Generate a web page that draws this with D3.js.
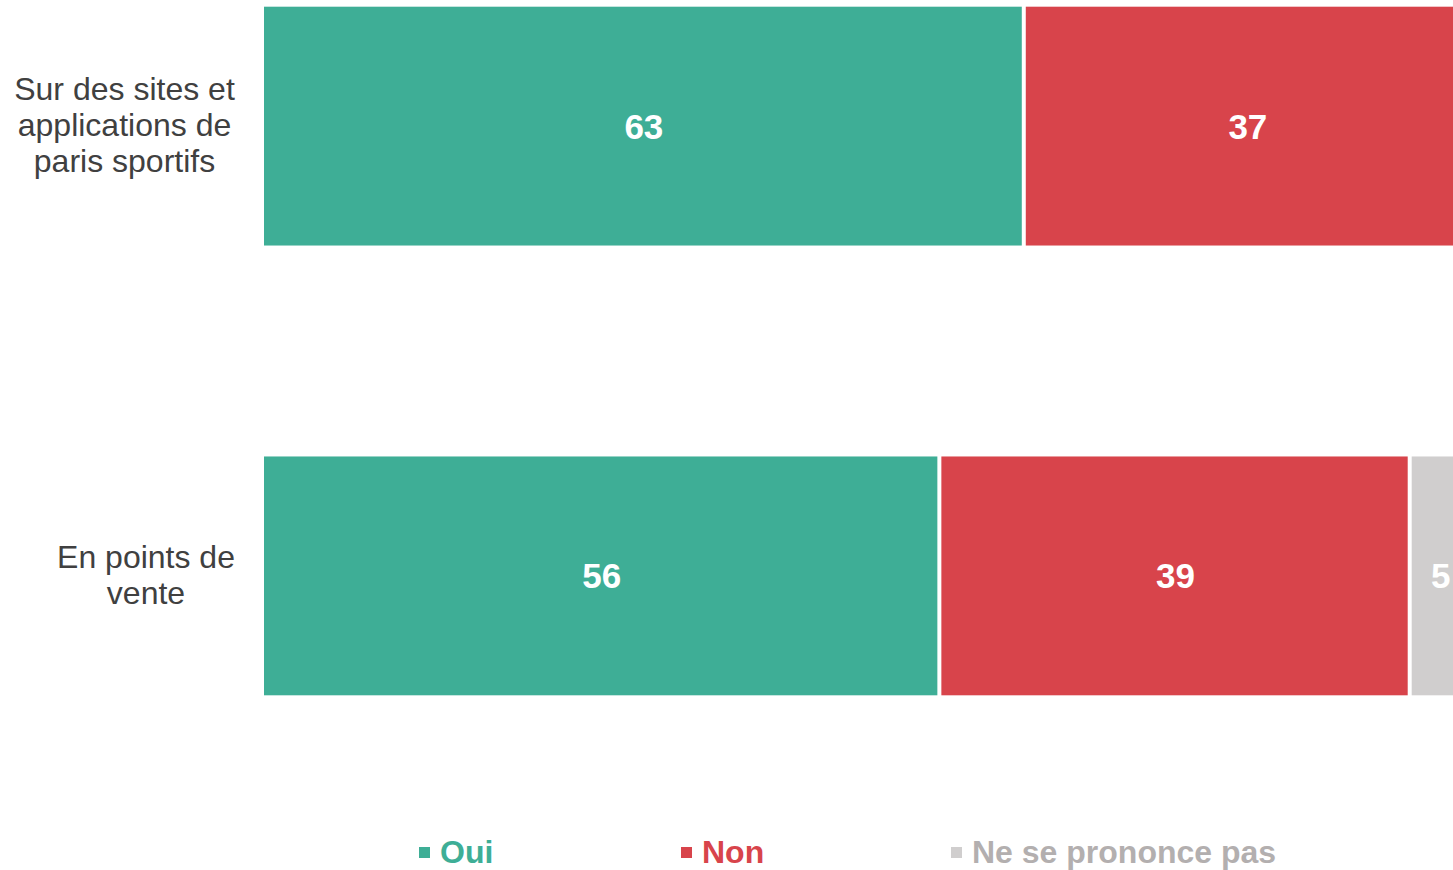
<!DOCTYPE html>
<html><head><meta charset="utf-8">
<script src="https://cdn.jsdelivr.net/npm/d3@7"></script>
<style>html,body{margin:0;padding:0;background:#fff;overflow:hidden}</style>
</head><body>
<svg id="chart" width="1453" height="870"></svg>
<script>
const categories = [["Sur des sites et","applications de","paris sportifs"],["En points de","vente"]];
const categoryKeys = ["sites","points"];
const seriesNames = ["Oui","Non","Ne se prononce pas"];
const oui = [63, 56];
const non = [37, 39];
const nsp = [0, 5];
const colors = ["#3eae96","#d8444b","#d0cece"];
const legendTextColors = ["#3eae96","#d8444b","#b3afaf"];

const svg = d3.select("#chart");
const font = "'Liberation Sans', Arial, sans-serif";
const x = d3.scaleLinear().domain([0,100]).range([264, 1470]);
const y = d3.scaleBand().domain(categoryKeys).range([-99, 801]).paddingInner(0.469).paddingOuter(0.235);

const rows = categoryKeys.map((k,i)=>({key:k, Oui:oui[i], Non:non[i], "Ne se prononce pas":nsp[i]}));
const stack = d3.stack().keys(seriesNames)(rows);

stack.forEach((layer, si) => {
  const g = svg.append("g");
  layer.forEach((d, ri) => {
    const v = d[1]-d[0];
    if (v <= 0) return;
    const x0 = x(d[0]) + (d[0] > 0 ? 2 : 0);
    const x1 = x(d[1]) - (d[1] < 100 ? 2 : 0);
    g.append("rect")
      .attr("x", x0).attr("y", y(categoryKeys[ri]))
      .attr("width", x1 - x0).attr("height", y.bandwidth())
      .attr("fill", colors[si]);
    g.append("text")
      .attr("x", (x(d[0]) + x(d[1]))/2 + (d[0]>0?1:0))
      .attr("y", y(categoryKeys[ri]) + y.bandwidth()/2)
      .attr("dy", "0.36em")
      .attr("text-anchor","middle")
      .attr("font-family", font).attr("font-weight","bold").attr("font-size", 35)
      .attr("fill","#ffffff")
      .text(v);
  });
});

// category labels
categories.forEach((lines, i) => {
  const cy = y(categoryKeys[i]) + y.bandwidth()/2;
  const lh = 36;
  const t = svg.append("text")
    .attr("text-anchor","middle")
    .attr("font-family", font).attr("font-size", 32)
    .attr("fill","#404040");
  const cx = i === 0 ? 124.5 : 146;
  lines.forEach((ln, j) => {
    t.append("tspan").attr("x", cx)
      .attr("y", cy + (j - (lines.length-1)/2)*lh)
      .attr("dy","0.32em").text(ln);
  });
});

// legend
const legendX = [419, 681, 951];
const lg = svg.append("g");
seriesNames.forEach((s, i) => {
  lg.append("rect").attr("x", legendX[i]).attr("y", 847).attr("width", 11).attr("height", 11).attr("fill", colors[i]);
  lg.append("text").attr("x", legendX[i] + 21).attr("y", 863)
    .attr("font-family", font).attr("font-weight","bold").attr("font-size", 32)
    .attr("fill", legendTextColors[i]).text(s);
});
</script>
</body></html>
